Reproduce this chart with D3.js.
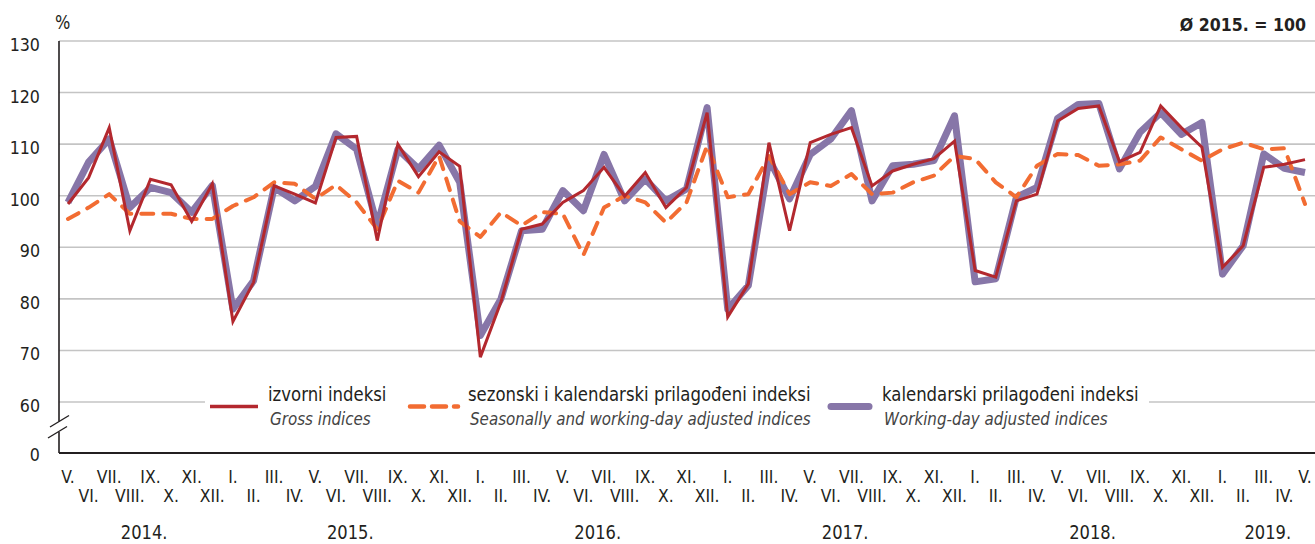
<!DOCTYPE html>
<html><head><meta charset="utf-8">
<script src="https://cdn.jsdelivr.net/npm/d3@7/dist/d3.min.js"></script>
<style>
html,body{margin:0;padding:0;background:#fff;}
svg{display:block;font-family:"DejaVu Sans",sans-serif;}
</style></head>
<body><svg id="c" width="1315" height="544"></svg>
<script>
const months = ["V.","VI.","VII.","VIII.","IX.","X.","XI.","XII.",
 "I.","II.","III.","IV.","V.","VI.","VII.","VIII.","IX.","X.","XI.","XII.",
 "I.","II.","III.","IV.","V.","VI.","VII.","VIII.","IX.","X.","XI.","XII.",
 "I.","II.","III.","IV.","V.","VI.","VII.","VIII.","IX.","X.","XI.","XII.",
 "I.","II.","III.","IV.","V.","VI.","VII.","VIII.","IX.","X.","XI.","XII.",
 "I.","II.","III.","IV.","V."];
const years = ["2014.","2015.","2016.","2017.","2018.","2019."];
const yearFirst = [0,8,20,32,44,56];
const yearLast  = [7,19,31,43,55,60];
const yTicks = [60,70,80,90,100,110,120,130];

const gross = [98.4,103.5,113.2,93.2,103.2,102.1,95.0,102.3,
 75.6,83.2,101.9,100.3,98.6,111.3,111.5,91.3,110.0,103.7,108.5,105.7,
 68.7,79.4,93.5,94.5,98.7,101.0,105.5,99.9,104.5,97.7,101.6,116.1,
 76.5,82.9,110.3,93.2,110.3,111.9,113.2,101.9,104.8,106.1,107.2,110.6,
 85.5,84.2,99.0,100.3,114.5,116.9,117.4,106.6,108.4,117.4,113.2,109.4,
 86.1,90.3,105.5,106.1,107.0];
const seasonal = [95.5,97.7,100.3,96.5,96.5,96.5,95.5,95.5,
 98.0,99.7,102.6,102.3,99.4,102.1,98.7,93.5,102.9,100.6,107.7,95.0,
 92.0,96.8,94.2,96.8,96.5,88.5,97.7,100.0,98.7,94.8,98.7,109.7,
 99.7,100.3,107.7,100.3,102.6,101.9,104.2,100.3,100.6,102.6,103.9,107.7,
 107.1,102.6,99.7,105.8,108.1,107.9,105.8,106.1,106.8,111.3,109.0,106.8,
 109.0,110.3,109.0,109.2,98.4];
const workday = [98.7,106.5,111.0,97.7,101.6,100.6,96.8,102.0,
 78.0,83.5,101.6,99.0,101.8,112.0,109.0,94.2,109.0,105.2,109.8,102.6,
 72.9,80.0,93.2,93.5,101.0,97.1,108.0,99.0,103.2,99.0,101.3,117.1,
 78.0,82.6,107.1,99.4,108.0,111.0,116.5,99.0,105.8,106.1,106.8,115.5,
 83.3,83.9,99.7,101.6,115.0,117.7,117.9,105.2,112.3,116.1,111.9,114.2,
 84.8,90.3,108.1,105.3,104.5];

const legendMain = ["izvorni indeksi","sezonski i kalendarski prilagođeni indeksi","kalendarski prilagođeni indeksi"];
const legendSub = ["Gross indices","Seasonally and working-day adjusted indices","Working-day adjusted indices"];

const svg = d3.select("#c");
const x = d3.scaleLinear().domain([0, months.length-1]).range([68,1305]);
const y = d3.scaleLinear().domain([60,130]).range([402,41]);
const y0 = 453;
const txt = "#231f20";
const cRed = "#b3282e", cOr = "#f26c32", cPu = "#8776a8";

// condensed text helper
function ctext(parent, tx, ty, str, size, sx, anchor, opts={}) {
  const g = parent.append("g").attr("transform",`translate(${tx},${ty}) scale(${sx},1)`);
  const t = g.append("text").attr("x",0).attr("y",0).attr("font-size",size)
    .attr("text-anchor",anchor||"start").attr("fill",opts.fill||txt).text(str);
  if (opts.italic) t.attr("font-style","italic");
  if (opts.bold) t.attr("font-weight","bold");
  return t;
}

// gridlines
svg.append("g").selectAll("line").data(yTicks).join("line")
  .attr("x1",59).attr("x2",1315).attr("y1",d=>y(d)).attr("y2",d=>y(d))
  .attr("stroke","#c4c4c4").attr("stroke-width",1.6);

// y labels
const yl = svg.append("g");
yTicks.forEach(d=>ctext(yl, 40, y(d)+10, d, 18.5, 0.86, "end"));
ctext(yl, 40, 461, "0", 18.5, 0.86, "end");

// axes
svg.append("line").attr("x1",59).attr("x2",59).attr("y1",41).attr("y2",y0)
  .attr("stroke",txt).attr("stroke-width",1.6);
svg.append("line").attr("x1",59).attr("x2",1315).attr("y1",y0).attr("y2",y0)
  .attr("stroke",txt).attr("stroke-width",2);
// axis break
svg.append("rect").attr("x",53).attr("y",421.5).attr("width",12).attr("height",10.5).attr("fill","#fff");
svg.append("line").attr("x1",50).attr("x2",69).attr("y1",427).attr("y2",415.5).attr("stroke",txt).attr("stroke-width",1.4);
svg.append("line").attr("x1",48).attr("x2",67).attr("y1",438).attr("y2",426.5).attr("stroke",txt).attr("stroke-width",1.4);

// lines
const line = d3.line().x((d,i)=>x(i)).y(d=>y(d));
svg.append("path").datum(workday).attr("d",line).attr("fill","none")
  .attr("stroke",cPu).attr("stroke-width",7).attr("stroke-linejoin","round");
svg.append("path").datum(seasonal).attr("d",line).attr("fill","none")
  .attr("stroke",cOr).attr("stroke-width",4).attr("stroke-dasharray","12,10")
  .attr("stroke-linecap","round").attr("stroke-linejoin","round");
svg.append("path").datum(gross).attr("d",line).attr("fill","none")
  .attr("stroke",cRed).attr("stroke-width",3).attr("stroke-linejoin","miter");

// legend
svg.append("rect").attr("x",205).attr("y",372).attr("width",944).attr("height",60).attr("fill","#fff");
const lgText = [268,468,882];
const lgY = 406.5;
svg.append("line").attr("x1",210).attr("x2",258).attr("y1",lgY).attr("y2",lgY).attr("stroke",cRed).attr("stroke-width",3.5);
svg.append("line").attr("x1",410).attr("x2",458).attr("y1",lgY).attr("y2",lgY).attr("stroke",cOr).attr("stroke-width",4.5)
  .attr("stroke-dasharray","14,8").attr("stroke-linecap","round");
svg.append("line").attr("x1",831).attr("x2",869).attr("y1",lgY).attr("y2",lgY).attr("stroke",cPu).attr("stroke-width",7).attr("stroke-linecap","round");
const lgG = svg.append("g");
legendMain.forEach((t,i)=>{
  ctext(lgG, lgText[i], 400.5, t, 19, 0.87, "start");
  ctext(lgG, lgText[i]+2, 424.5, legendSub[i], 18, 0.84, "start", {italic:true, fill:"#444"});
});

// month labels
const ml = svg.append("g");
months.forEach((m,i)=>ctext(ml, x(i), i%2===0 ? 483 : 502, m, 18, 0.87, "middle"));

// year labels
const yg = svg.append("g");
years.forEach((t,i)=>ctext(yg, x((yearFirst[i]+yearLast[i])/2)+4, 538.5, t, 19, 0.86, "middle"));

ctext(svg, 55, 29, "%", 19, 0.85, "start");
ctext(svg, 1306, 31, "Ø 2015. = 100", 17, 0.93, "end", {bold:true});
</script></body></html>
